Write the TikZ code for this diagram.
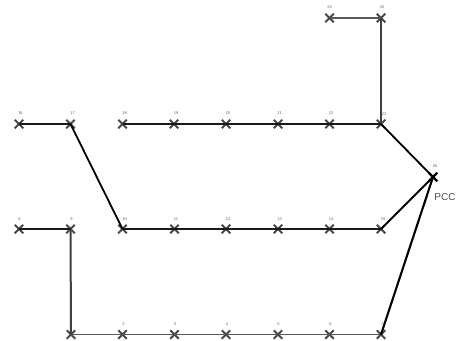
\documentclass[tikz,border=0pt]{standalone}
\usepackage{fontspec}
\setmainfont{Liberation Sans}
\usetikzlibrary{shapes.misc}
\tikzset{
  x=1pt,y=-1pt,
  bus/.style={cross out,draw=black!72,line width=1.8pt,minimum size=8.5pt,inner sep=0pt,outer sep=0pt},
  num/.style={font=\fontsize{4}{4.5}\selectfont,text=black!60,inner sep=0pt},
  feeder/.style={line width=1.6pt,black!90},
  thinfeeder/.style={line width=1.5pt,black!65},
  tie/.style={line width=1.8pt,black},
}
\begin{document}
\begin{tikzpicture}
\useasboundingbox[clip] (0,0) rectangle (460,340);
\fill[white] (0,0) rectangle (460,340);
% top branch
\node[bus] (n24) at (329.5,18) {}; \node[num] at (329.5,7.5) {24};
\node[bus] (n25) at (381,18) {}; \node[num] at (382,7.5) {25};
% row 16-23
\node[bus] (n16) at (19,124) {}; \node[num] at (20.5,113) {16};
\node[bus] (n17) at (70.5,124) {}; \node[num] at (72.5,113) {17};
\node[bus] (n18) at (122.5,124) {}; \node[num] at (124.5,113) {18};
\node[bus] (n19) at (174,124) {}; \node[num] at (176,113) {19};
\node[bus] (n20) at (226,124) {}; \node[num] at (228,113) {20};
\node[bus] (n21) at (278,124) {}; \node[num] at (279.5,113) {21};
\node[bus] (n22) at (329.5,124) {}; \node[num] at (331,113) {22};
\node[bus] (n23) at (381,124) {}; \node[num] at (384,114) {23};
% PCC
\node[bus,draw=black,line width=2.2pt] (n26) at (433,177) {}; \node[num] at (435,166) {26};
\node[font=\fontsize{10}{12}\selectfont,text=black!70,inner sep=0pt] (pcc) at (445,197.5) {PCC};
% row 8-15
\node[bus] (n8) at (19,229) {}; \node[num] at (19.5,219) {8};
\node[bus] (n9) at (70.5,229) {}; \node[num] at (71.5,219) {9};
\node[bus] (n10) at (122.5,229) {}; \node[num] at (124.5,219) {10};
\node[bus] (n11) at (174.5,229) {}; \node[num] at (176,219) {11};
\node[bus] (n12) at (226,229) {}; \node[num] at (228,219) {12};
\node[bus] (n13) at (278,229) {}; \node[num] at (279.5,219) {13};
\node[bus] (n14) at (329.5,229) {}; \node[num] at (331,219) {14};
\node[bus] (n15) at (381,229) {}; \node[num] at (383,219) {15};
% row 1-7
\node[bus] (n1) at (71,334.5) {};
\node[bus] (n2) at (122.5,334.5) {}; \node[num] at (123.5,324.5) {2};
\node[bus] (n3) at (174.5,334.5) {}; \node[num] at (175,324.5) {3};
\node[bus] (n4) at (226,334.5) {}; \node[num] at (227,324.5) {4};
\node[bus] (n5) at (278,334.5) {}; \node[num] at (278.5,324.5) {5};
\node[bus] (n6) at (329.5,334.5) {}; \node[num] at (330.5,324.5) {6};
\node[bus] (n7) at (381,334.5) {}; \node[num] at (382,324.5) {7};
% connectors
\draw[thinfeeder,line width=1.1pt] (n24.center) -- (n25.center);
\draw[feeder,black!75,line width=2.2pt] (n25.center) -- (n23.center);
\draw[feeder] (n18.center) -- (n19.center) -- (n20.center) -- (n21.center) -- (n22.center) -- (n23.center);
\draw[tie] (n23.center) -- (n26.center);
\draw[feeder] (n16.center) -- (n17.center);
\draw[tie] (n17.center) -- (n10.center);
\draw[feeder] (n8.center) -- (n9.center);
\draw[feeder] (n10.center) -- (n11.center) -- (n12.center) -- (n13.center) -- (n14.center) -- (n15.center);
\draw[tie] (n15.center) -- (n26.center);
\draw[feeder,black!75,line width=2pt] (n9.center) -- (n1.center);
\draw[thinfeeder] (n1.center) -- (n2.center) -- (n3.center) -- (n4.center) -- (n5.center) -- (n6.center) -- (n7.center);
\draw[tie,line width=2.1pt] (n7.center) -- (n26.center);
\end{tikzpicture}
\end{document}
